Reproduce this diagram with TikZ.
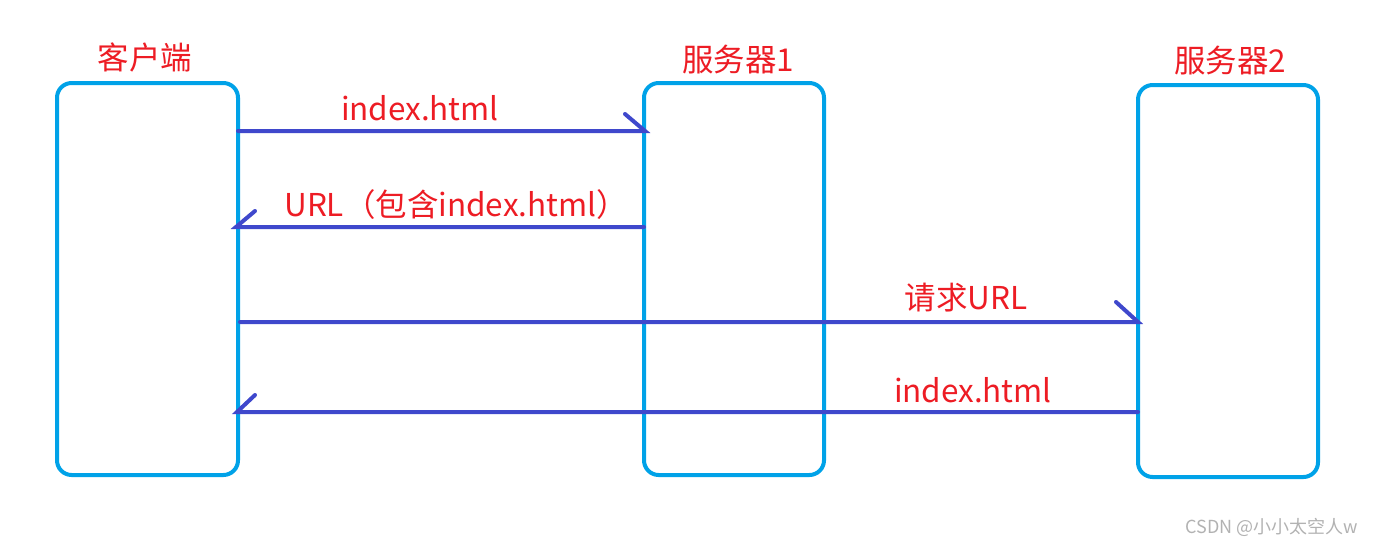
\documentclass[tikz,border=0pt]{standalone}
\usepackage{fontspec}
\setmainfont{Noto Sans CJK SC}
\definecolor{boxc}{HTML}{00A2E8}
\definecolor{arrc}{HTML}{3F48CC}
\definecolor{txtc}{HTML}{ED1C24}
\begin{document}
\begin{tikzpicture}[x=0.75pt,y=-0.75pt,
  lane/.style={draw=boxc,line width=3pt,rounded corners=11pt},
  msg/.style={draw=arrc,line width=3pt,line cap=round},
  lbl/.style={text=txtc,font=\fontsize{23.6}{27}\selectfont,inner sep=0pt},
  wm/.style={text=gray!60,font=\fontsize{13.5}{15}\selectfont,inner sep=0pt}]
\useasboundingbox (0,0) rectangle (1379,547);
% lanes
\draw[lane] (57,83) rectangle (238,475);
\draw[lane] (644,83) rectangle (824,475);
\draw[lane] (1138,85) rectangle (1318,477);
\node[lbl] (tc) at (145,57) {客户端};
\node[lbl] (t1) at (738,60) {服务器1};
\node[lbl] (t2) at (1230,61) {服务器2};
% anchor coordinates
\coordinate (a1s) at (238,131);
\coordinate (a1e) at (645,131);
\coordinate (a1b) at (625,114);
\coordinate (a2s) at (644,227);
\coordinate (a2e) at (236,227);
\coordinate (a2b) at (255,211);
\coordinate (a3s) at (240,322);
\coordinate (a3e) at (1138,322);
\coordinate (a3b) at (1116,302);
\coordinate (a4s) at (1138,412);
\coordinate (a4e) at (237,412);
\coordinate (a4b) at (255,395);
\draw[msg] (a1s) -- (a1e) -- (a1b);
\draw[msg] (a2s) -- (a2e) -- (a2b);
\draw[msg] (a3s) -- (a3e) -- (a3b);
\draw[msg] (a4s) -- (a4e) -- (a4b);
\node[lbl] (l1) at (420,108) {index.html};
\node[lbl] (l2) at (456,205) {URL（包含index.html）};
\node[lbl] (l3) at (966,298) {请求URL};
\node[lbl] (l4) at (973,390) {index.html};
\node[wm] (w) at (1272,527) {CSDN @小小太空人w};
\end{tikzpicture}
\end{document}
